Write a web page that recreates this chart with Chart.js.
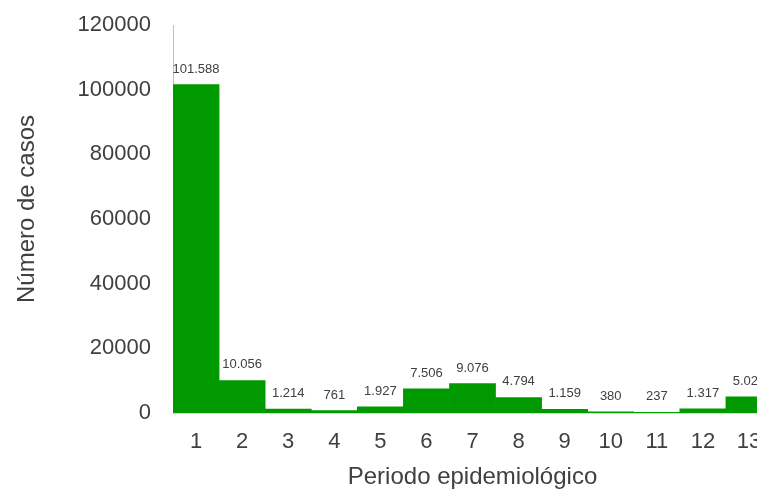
<!DOCTYPE html>
<html>
<head>
<meta charset="utf-8">
<script src="https://cdn.jsdelivr.net/npm/chart.js@4"></script>
<style>
  html, body { margin: 0; padding: 0; background: #fff; overflow: hidden; }
  #wrap { width: 757px; height: 489px; overflow: hidden; }
</style>
</head>
<body>
<div id="wrap"><canvas id="casesBar" width="772" height="489"></canvas></div>
<script>
const periods = ["1", "2", "3", "4", "5", "6", "7", "8", "9", "10", "11", "12", "13"];
const cases = [101588, 10056, 1214, 761, 1927, 7506, 9076, 4794, 1159, 380, 237, 1317, 5024];
const yTicks = [0, 20000, 40000, 60000, 80000, 100000, 120000];
const yTitle = "Número de casos";
const xTitle = "Periodo epidemiológico";

const textColor = "#404040";
const fontFamily = "'Liberation Sans', Arial, sans-serif";

// thousands with a dot, like the original labels
const fmt = (v) => String(v).replace(/\B(?=(\d{3})+(?!\d))/g, ".");

const valueLabels = {
  id: "valueLabels",
  afterDatasetsDraw(chart) {
    const ctx = chart.ctx;
    const meta = chart.getDatasetMeta(0);
    ctx.save();
    ctx.font = "13px " + fontFamily;
    ctx.fillStyle = textColor;
    ctx.textAlign = "center";
    ctx.textBaseline = "alphabetic";
    meta.data.forEach((bar, i) => {
      ctx.fillText(fmt(cases[i]), bar.x, bar.y - 12);
    });
    ctx.restore();
  },
};

// y title drawn by hand, the original sits a bit above the plot's middle
const yTitlePlugin = {
  id: "yTitlePlugin",
  afterDraw(chart) {
    const ctx = chart.ctx;
    const area = chart.chartArea;
    ctx.save();
    ctx.translate(27, (area.top + area.bottom) / 2 - 10);
    ctx.rotate(-Math.PI / 2);
    ctx.font = "24px " + fontFamily;
    ctx.fillStyle = textColor;
    ctx.textAlign = "center";
    ctx.textBaseline = "middle";
    ctx.fillText(yTitle, 0, 0);
    ctx.restore();
  },
};

const ctx = document.getElementById("casesBar").getContext("2d");
const casesChart = new Chart(ctx, {
  type: "bar",
  data: {
    labels: periods,
    datasets: [
      {
        data: cases,
        backgroundColor: "#009900",
        borderWidth: 0,
        barPercentage: 1,
        categoryPercentage: 1,
      },
    ],
  },
  options: {
    responsive: false,
    animation: false,
    layout: {
      padding: { top: 25, left: 0, right: 0, bottom: 0 },
    },
    scales: {
      x: {
        grid: { display: false, drawTicks: false },
        border: { display: true, color: "#d9d9d9", width: 1 },
        ticks: {
          color: textColor,
          font: { family: fontFamily, size: 22 },
          padding: 16,
          maxRotation: 0,
          autoSkip: false,
        },
        title: {
          display: true,
          text: xTitle,
          color: textColor,
          font: { family: fontFamily, size: 24 },
          padding: { top: 0, bottom: -3 },
        },
        afterFit: (scale) => {
          scale.height = 76;
          scale.paddingLeft = 0;
          scale.paddingRight = 0;
        },
      },
      y: {
        min: 0,
        max: 120000,
        grid: { display: false, drawTicks: false },
        border: { display: true, color: "#bfbfbf", width: 1 },
        afterBuildTicks: (scale) => {
          scale.ticks = yTicks.map((v) => ({ value: v }));
        },
        ticks: {
          color: textColor,
          font: { family: fontFamily, size: 22 },
          padding: 22,
          callback: (v) => String(v),
        },
        title: { display: false },
        afterFit: (scale) => {
          scale.width = 173;
          scale.paddingTop = 0;
          scale.paddingBottom = 0;
        },
      },
    },
    plugins: {
      legend: { display: false },
      tooltip: { enabled: false },
    },
  },
  plugins: [valueLabels, yTitlePlugin],
});
</script>
</body>
</html>
